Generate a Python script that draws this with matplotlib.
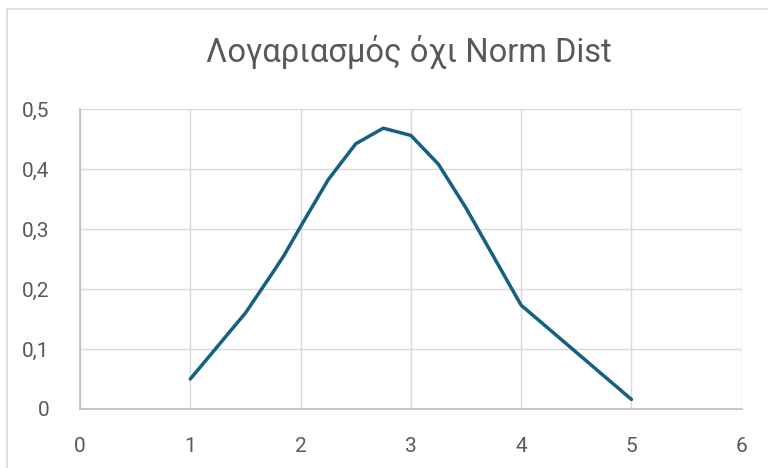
import matplotlib.pyplot as plt
from matplotlib.lines import Line2D
from matplotlib.ticker import FuncFormatter

# values
x_vals = [1, 1.5, 1.75, 1.85, 2, 2.25, 2.5, 2.75, 3, 3.25, 3.5, 4, 5]
y_vals = [0.05, 0.16, 0.228, 0.256, 0.304, 0.382, 0.442, 0.468, 0.456, 0.408, 0.335, 0.173, 0.016]
x_ticks = [0, 1, 2, 3, 4, 5, 6]
y_ticks = [0, 0.1, 0.2, 0.3, 0.4, 0.5]
title = "Λογαριασμός όχι Norm Dist"

W, H = 768, 468
fig = plt.figure(figsize=(W / 100, H / 100), dpi=100)
plt.rcParams['font.family'] = ['Roboto', 'DejaVu Sans']

# plot area in pixels: left 80, right 741.7, top 109, bottom 409
ax = fig.add_axes([80 / W, 1 - 409 / H, (741.7 - 80) / W, (409 - 109) / H])

ax.plot(x_vals, y_vals, color="#156082", lw=2.5, solid_joinstyle="round",
        solid_capstyle="round", zorder=3)

ax.set_xlim(0, 6)
ax.set_ylim(0, 0.5)
ax.set_xticks(x_ticks)
ax.set_yticks(y_ticks)
ax.yaxis.set_major_formatter(FuncFormatter(lambda v, p: "0" if v == 0 else f"{v:.1f}".replace(".", ",")))
ax.grid(True, color="#d9d9d9", lw=1.0)
ax.set_axisbelow(True)
for side in ["top", "right"]:
    ax.spines[side].set_visible(False)
for side in ["left", "bottom"]:
    ax.spines[side].set_color("#bfbfbf")
    ax.spines[side].set_linewidth(1.2)
ax.tick_params(length=0, labelsize=15, labelcolor="#595959")
ax.tick_params(axis="x", pad=20)
ax.tick_params(axis="y", pad=22)

fig.text(0.5 * (80 + 741.7) / W - 0.003, 1 - 52 / H, title, ha="center", va="center",
         fontsize=23.5, color="#595959")

# chart border (only top and left visible in the crop)
fig.add_artist(Line2D([7 / W, 1], [1 - 9 / H, 1 - 9 / H], color="#d9d9d9", lw=1.2))
fig.add_artist(Line2D([7 / W, 7 / W], [0, 1 - 9 / H], color="#d9d9d9", lw=1.2))

fig.savefig("out.png", dpi=100, facecolor="white")
